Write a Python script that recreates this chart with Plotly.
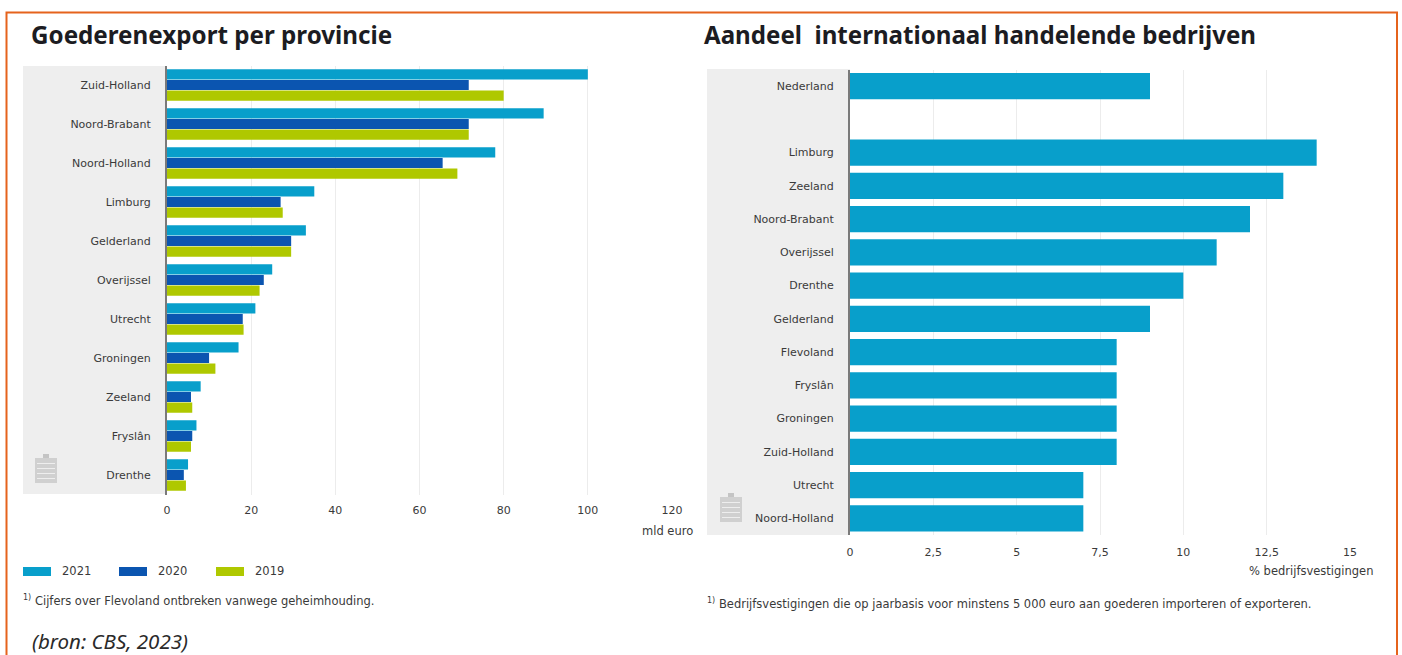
import plotly.graph_objects as go

W, H = 1402, 655

# Goods export per province, billion euro
provinces = ["Zuid-Holland", "Noord-Brabant", "Noord-Holland", "Limburg", "Gelderland", "Overijssel",
             "Utrecht", "Groningen", "Zeeland", "Fryslân", "Drenthe"]
export_2021 = [100, 89.5, 78, 35, 33, 25, 21, 17, 8, 7, 5]
export_2020 = [71.7, 71.7, 65.5, 27, 29.5, 23, 18, 10, 5.7, 6, 4]
export_2019 = [80, 71.7, 69, 27.5, 29.5, 22, 18.2, 11.5, 6, 5.7, 4.5]

# Share of internationally trading companies, percent of establishments
regions = ["Nederland", " ", "Limburg", "Zeeland", "Noord-Brabant", "Overijssel", "Drenthe", "Gelderland",
           "Flevoland", "Fryslân", "Groningen", "Zuid-Holland", "Utrecht", "Noord-Holland"]
share = [9, None, 14, 13, 12, 11, 10, 9, 8, 8, 8, 8, 7, 7]

years = ["2021", "2020", "2019"]
colors = ["#089FCB", "#0B55B0", "#AFC800"]

FONT = "DejaVu Sans"
HEAD = "Noto Sans"
TEXT = "#3a3a3a"
ORANGE = "#E5631C"


def px(x):
    return x / W


def py(y):
    return 1 - y / H


def box(x0, y0, x1, y1, **kw):
    return dict(type="rect", xref="paper", yref="paper", layer=kw.pop("layer", "below"),
                x0=px(x0), x1=px(x1), y0=py(y1), y1=py(y0), **kw)


def note(x, y, text, size=10, anchor="left", color=TEXT, family=FONT, pad=1):
    return dict(xref="paper", yref="paper", x=px(x), y=py(y), text=text, showarrow=False, borderpad=pad,
                xanchor=anchor, yanchor="middle", font=dict(size=size, color=color, family=family))


def clipboard(x, y):
    """Small grey table pictogram used as a watermark inside the label panel."""
    items = [box(x + 8, y, x + 14, y + 5, fillcolor="#c4c4c4", line_width=0, layer="above"),
             box(x, y + 4, x + 22, y + 29, fillcolor="#d0d0d0", line_width=0, layer="above")]
    for row in (9, 14, 19, 24):
        items.append(box(x + 2, y + row, x + 20, y + row + 1, fillcolor="#eeeeee", line_width=0, layer="above"))
    return items


fig = go.Figure()

for name, values, color in zip(years, [export_2021, export_2020, export_2019], colors):
    fig.add_trace(go.Bar(y=provinces, x=values, name=name, orientation="h", marker_color=color,
                         marker_line_width=0, showlegend=False, xaxis="x", yaxis="y"))

fig.add_trace(go.Bar(y=regions, x=share, orientation="h", marker_color=colors[0], marker_line_width=0,
                     width=0.79, showlegend=False, xaxis="x2", yaxis="y2"))

shapes = [
    box(23, 66, 167, 494, fillcolor="#EEEEEE", line_width=0),
    box(707, 69, 850, 535, fillcolor="#EEEEEE", line_width=0),
    # Orange frame runs past the lower edge of the page
    box(6.5, 12.5, 1397, 670, fillcolor="rgba(0,0,0,0)", line=dict(color=ORANGE, width=2)),
]
shapes += clipboard(35, 454) + clipboard(720, 493)

annotations = [
    note(29, 35, "<b>Goederenexport per provincie</b>", size=24.2, color="#1c1c22", family=HEAD),
    note(702, 35, "<b>Aandeel  internationaal handelende bedrijven</b>", size=24.1, color="#1c1c22", family=HEAD),
    note(695, 531, "mld euro", size=11.5, anchor="right"),
    note(1375, 571, "% bedrijfsvestigingen", size=11.5, anchor="right"),
    note(21, 600, "<sup>1)</sup> Cijfers over Flevoland ontbreken vanwege geheimhouding.", size=11.5),
    note(705, 603, "<sup>1)</sup> Bedrijfsvestigingen die op jaarbasis voor minstens 5 000 euro aan goederen "
                   "importeren of exporteren.", size=11.5),
    note(31, 641, "<i>(bron: CBS, 2023)</i>", size=20.5, color="#2a2a2a", family=HEAD, pad=0),
]

# Legend row below the left panel
for x0, name, color in zip((23, 119, 216), years, colors):
    shapes.append(box(x0, 567, x0 + 28, 576, fillcolor=color, line_width=0))
    annotations.append(note(x0 + 37, 571, name, size=11.5))

tick_font = dict(size=11, color=TEXT, family=FONT)
common_x = dict(showgrid=True, gridcolor="#ececec", gridwidth=1, zeroline=False, showline=False, automargin=False,
                ticks="outside", tickcolor="rgba(0,0,0,0)", tickfont=tick_font)
common_y = dict(type="category", showgrid=False, zeroline=False, showline=True, linecolor="#7a7a7a", linewidth=2,
                automargin=False, ticks="outside", ticklen=12, tickcolor="rgba(0,0,0,0)", tickfont=tick_font)

fig.update_layout(
    width=W, height=H, margin=dict(l=0, r=0, t=0, b=0), autosize=False,
    paper_bgcolor="white", plot_bgcolor="rgba(0,0,0,0)",
    barmode="group", bargap=0.18, bargroupgap=0.04,
    shapes=shapes, annotations=annotations, showlegend=False,
    xaxis=dict(domain=[px(167), px(672)], range=[0, 120], tickvals=[0, 20, 40, 60, 80, 100, 120],
               anchor="y", ticklen=5, **common_x),
    yaxis=dict(domain=[py(494.5), py(65.5)], range=[10.5, -0.5], anchor="x", categoryorder="array",
               categoryarray=provinces, **common_y),
    xaxis2=dict(domain=[px(850), px(1350)], range=[0, 15], tickvals=[0, 2.5, 5, 7.5, 10, 12.5, 15],
                ticktext=["0", "2,5", "5", "7,5", "10", "12,5", "15"], anchor="y2", ticklen=7, **common_x),
    yaxis2=dict(domain=[py(535), py(69.5)], range=[13.5, -0.5], anchor="x2", categoryorder="array",
                categoryarray=regions, tickvals=regions, **common_y),
)

fig.write_html("out.html", config={"displayModeBar": False})
